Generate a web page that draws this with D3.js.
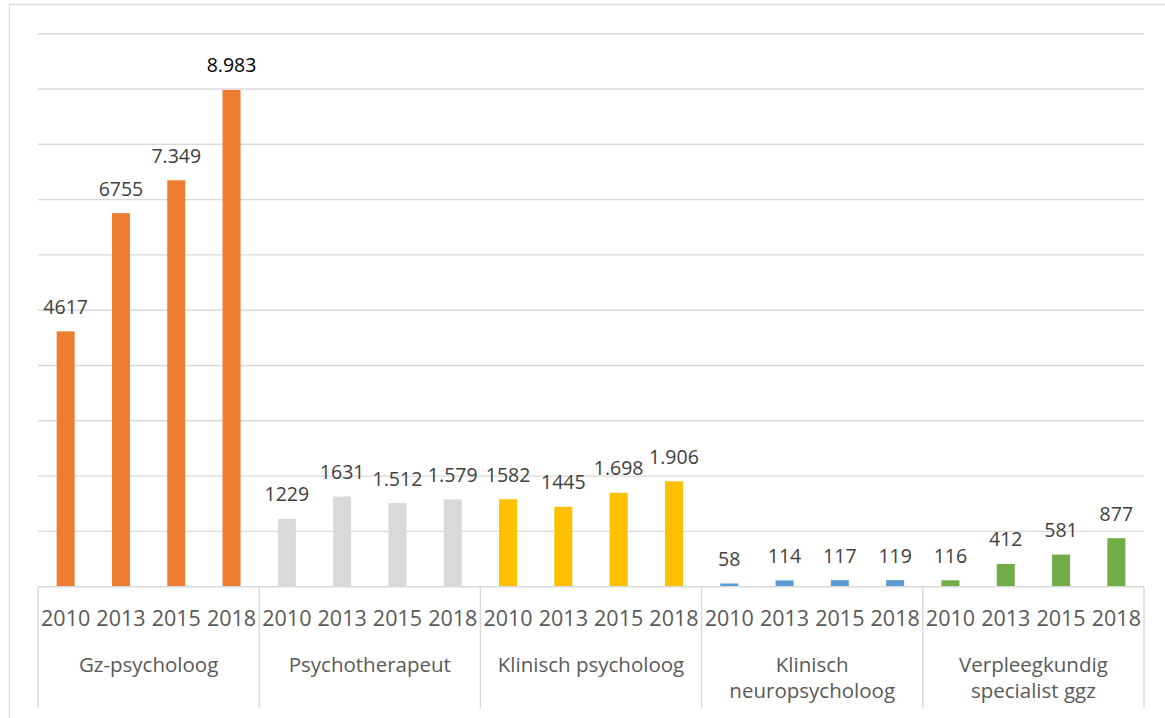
<!DOCTYPE html>
<html>
<head>
<meta charset="utf-8">
<script src="https://cdn.jsdelivr.net/npm/d3@7"></script>
<style>
  html, body { margin: 0; padding: 0; background: #fff; }
  svg { display: block; font-family: "Open Sans", "Noto Sans", sans-serif; }
</style>
</head>
<body>
<svg id="chart" width="1165" height="718"></svg>
<script>
const groups = ["Gz-psycholoog", "Psychotherapeut", "Klinisch psycholoog", "Klinisch neuropsycholoog", "Verpleegkundig specialist ggz"];
const groupLines = [["Gz-psycholoog"], ["Psychotherapeut"], ["Klinisch psycholoog"], ["Klinisch", "neuropsycholoog"], ["Verpleegkundig", "specialist ggz"]];
const years = ["2010", "2013", "2015", "2018"];
const gzValues = [4617, 6755, 7349, 8983];
const psychotherapeutValues = [1229, 1631, 1512, 1579];
const klinischValues = [1582, 1445, 1698, 1906];
const neuroValues = [58, 114, 117, 119];
const verpleegValues = [116, 412, 581, 877];
const valueLabels = [
  ["4617", "6755", "7.349", "8.983"],
  ["1229", "1631", "1.512", "1.579"],
  ["1582", "1445", "1.698", "1.906"],
  ["58", "114", "117", "119"],
  ["116", "412", "581", "877"]
];
const yTicks = [0, 1000, 2000, 3000, 4000, 5000, 6000, 7000, 8000, 9000, 10000];
const colors = ["#ED7D31", "#D9D9D9", "#FFC000", "#5B9BD5", "#70AD47"];

const seriesValues = [gzValues, psychotherapeutValues, klinischValues, neuroValues, verpleegValues];

const svg = d3.select("#chart");
const plotLeft = 38, plotRight = 1144, plotTop = 33.7, plotBottom = 586.7;

// outer chart border
svg.append("rect")
  .attr("x", 9.5).attr("y", 4.5)
  .attr("width", 1180).attr("height", 730)
  .attr("fill", "none").attr("stroke", "#D9D9D9").attr("stroke-width", 1.3);

const y = d3.scaleLinear().domain([0, 10000]).range([plotBottom, plotTop]);
const x0 = d3.scaleBand().domain(groups).range([plotLeft, plotRight]).padding(0);
const pi = 1 - 18 / (x0.bandwidth() / 4);
const x1 = d3.scaleBand().domain(years).range([0, x0.bandwidth()]).paddingInner(pi).paddingOuter(pi / 2);

// gridlines
svg.append("g")
  .selectAll("line")
  .data(yTicks.filter(d => d > 0))
  .join("line")
  .attr("x1", plotLeft).attr("x2", plotRight)
  .attr("y1", d => y(d)).attr("y2", d => y(d))
  .attr("stroke", "#D9D9D9").attr("stroke-width", 1.4);

// bars
const gGroups = svg.append("g")
  .selectAll("g")
  .data(groups)
  .join("g")
  .attr("transform", d => `translate(${x0(d)},0)`);

gGroups.each(function(gname, gi) {
  const g = d3.select(this);
  const vals = seriesValues[gi];
  g.selectAll("rect")
    .data(vals)
    .join("rect")
    .attr("x", (d, i) => x1(years[i]))
    .attr("width", x1.bandwidth())
    .attr("y", d => y(d))
    .attr("height", d => y(0) - y(d))
    .attr("fill", colors[gi]);
  g.selectAll("text.val")
    .data(vals)
    .join("text")
    .attr("class", "val")
    .attr("x", (d, i) => x1(years[i]) + x1.bandwidth() / 2)
    .attr("y", d => y(d) - 17.5)
    .attr("text-anchor", "middle")
    .attr("font-size", "19.5px")
    .attr("fill", (d, i) => (gi === 0 && i === 3) ? "#000000" : "#404040")
    .text((d, i) => valueLabels[gi][i]);

  // year axis for this group
  const ax = g.append("g").attr("transform", `translate(0,${plotBottom})`)
    .call(d3.axisBottom(x1).tickSize(0).tickPadding(0));
  ax.select(".domain").remove();
  ax.selectAll("text")
    .attr("y", 39)
    .attr("dy", 0)
    .attr("font-size", "21.5px")
    .attr("font-family", "\"Open Sans\", sans-serif")
    .attr("fill", "#595959");

  // group label
  const t = g.append("text")
    .attr("x", x0.bandwidth() / 2)
    .attr("y", 671.7)
    .attr("text-anchor", "middle")
    .attr("font-size", "20.5px")
    .attr("fill", "#595959");
  t.selectAll("tspan")
    .data(groupLines[gi])
    .join("tspan")
    .attr("x", x0.bandwidth() / 2)
    .attr("dy", (d, i) => i === 0 ? 0 : 26)
    .text(d => d);
});

// baseline
svg.append("line")
  .attr("x1", plotLeft).attr("x2", plotRight)
  .attr("y1", plotBottom).attr("y2", plotBottom)
  .attr("stroke", "#D9D9D9").attr("stroke-width", 1.4);

// group separators
svg.append("g")
  .selectAll("line")
  .data(groups.map(g => x0(g)).concat([plotRight]))
  .join("line")
  .attr("x1", d => d).attr("x2", d => d)
  .attr("y1", plotBottom).attr("y2", 708)
  .attr("stroke", "#D9D9D9").attr("stroke-width", 1.4);
</script>
</body>
</html>
